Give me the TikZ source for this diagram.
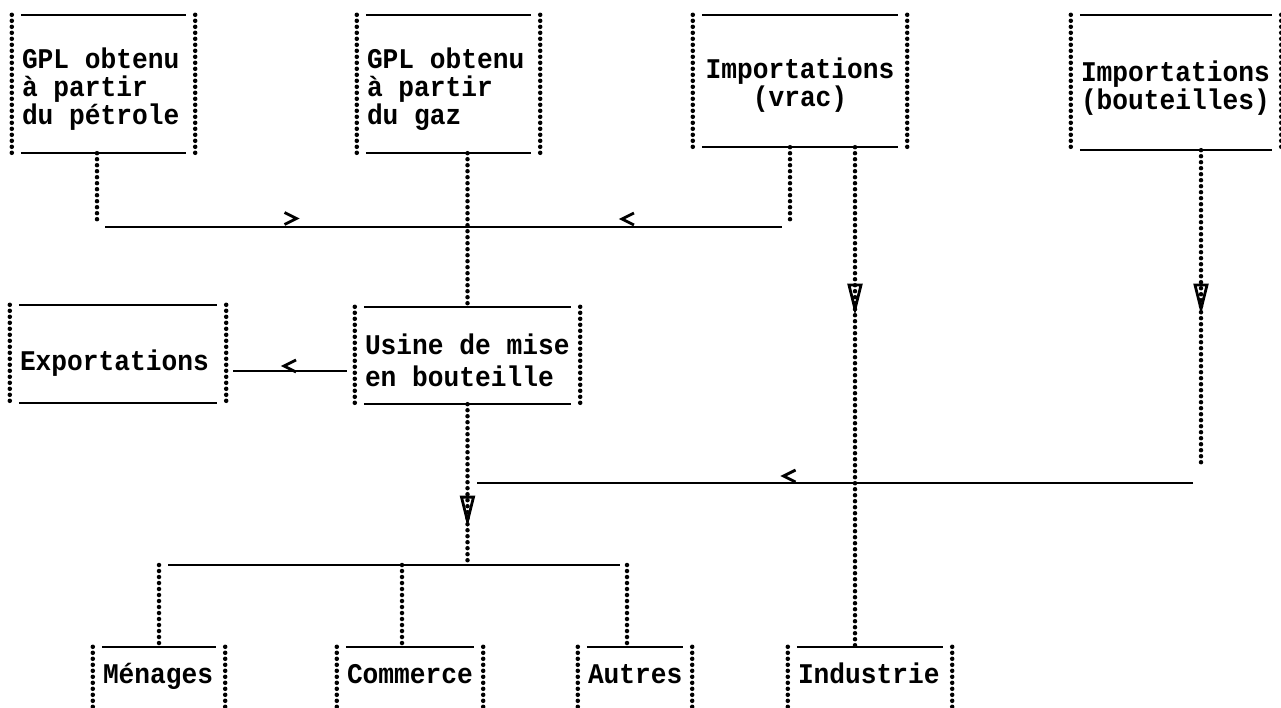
\documentclass[tikz,border=0pt]{standalone}
\usepackage{fontspec}
\setmainfont{Liberation Mono}[FakeStretch=0.92]
\usetikzlibrary{calc}
\protected\def\twfont{\bfseries\fontsize{28.5}{28}\selectfont
  \fontdimen2\font=15.73pt \fontdimen3\font=0pt \fontdimen4\font=0pt \relax}
\tikzset{
  solidln/.style={line width=2.2pt},
  dotln/.style={line width=4.5pt, line cap=round, dash pattern=on 0pt off 6pt},
  glyphln/.style={line width=2.8pt, line join=miter},
  tbox/.style={inner xsep=10pt, inner ysep=0pt, font=\twfont},
  pics/ltri/.style={code={\draw[glyphln] (6,-6) -- (-6,0) -- (6,6);}},
  pics/rtri/.style={code={\draw[glyphln] (-6,-6) -- (6,0) -- (-6,6);}},
  pics/vtri/.style={code={\draw[glyphln] (-6,0) -- (6,0) -- (0,24) -- cycle;}},
}
\newcommand\frameit[1]{%
  \draw[solidln] ([xshift=9pt]#1.north west) -- ([xshift=-9pt]#1.north east);
  \draw[solidln] ([xshift=9pt]#1.south west) -- ([xshift=-9pt]#1.south east);
  \draw[dotln] (#1.north west) -- (#1.south west);
  \draw[dotln] (#1.north east) -- (#1.south east);}
\begin{document}
\begin{tikzpicture}[x=1pt,y=-1pt]
\useasboundingbox (0,0) rectangle (1281,708);
\fill[white] (0,0) rectangle (1281,708);
\clip (0,0) rectangle (1281,708);

% boxes
\node[tbox, align=flush left, text width=163pt, minimum width=183pt, minimum height=138pt, text height=32pt, text depth=62pt] (b1) at (103.5,84) {GPL obtenu\\à partir\\du pétrole};
\node[tbox, align=flush left, text width=163pt, minimum width=183pt, minimum height=138pt, text height=32pt, text depth=62pt] (b2) at (448.5,84) {GPL obtenu\\à partir\\du gaz};
\node[tbox, align=flush center, text width=194pt, minimum width=214pt, minimum height=132pt, text height=30pt, text depth=34pt] (vrac) at (800,81) {Importations\\(vrac)};
\node[tbox, align=flush left, text width=190pt, minimum width=210pt, minimum height=135pt, text height=33pt, text depth=34pt] (bout) at (1176,82.5) {Importations\\(bouteilles)};
\node[tbox, align=flush left, text width=196pt, minimum width=216pt, minimum height=98pt, text height=38pt, text depth=6pt] (exp) at (118,354) {Exportations};
\node[tbox, align=flush left, text width=205pt, minimum width=225pt, minimum height=97pt, text height=35pt, text depth=38pt] (usine) at (467.5,355.5) {Usine de mise\\[4pt]en bouteille};
\node[tbox, align=flush left, text width=112pt, minimum width=132pt, minimum height=65pt, text height=13pt, text depth=6pt] (men) at (159,679.5) {Ménages};
\node[tbox, align=flush left, text width=126pt, minimum width=146pt, minimum height=65pt, text height=13pt, text depth=6pt] (com) at (410,679.5) {Commerce};
\node[tbox, align=flush left, text width=94pt, minimum width=114pt, minimum height=65pt, text height=13pt, text depth=6pt] (aut) at (635,679.5) {Autres};
\node[tbox, align=flush left, text width=144pt, minimum width=164pt, minimum height=65pt, text height=13pt, text depth=6pt] (ind) at (870,679.5) {Industrie};

\frameit{b1}\frameit{b2}\frameit{vrac}\frameit{bout}\frameit{exp}
\frameit{usine}\frameit{men}\frameit{com}\frameit{aut}\frameit{ind}

% top merge
\coordinate (m1) at (97,227);
\coordinate (m2) at (790,227);
\draw[dotln] (b1.south -| m1) -- ([yshift=5pt]m1);
\draw[dotln] (vrac.south -| m2) -- ([yshift=5pt]m2);
\draw[solidln] ([xshift=8pt]m1) -- ([xshift=-8pt]m2) coordinate[pos=0.274] (g1) coordinate[pos=0.7725] (g2);
\pic at ([yshift=8.5pt]g1) {rtri};
\pic at ([yshift=8pt]g2) {ltri};
\draw[dotln] (b2.south -| usine.north) -- (usine.north);

% exportations
\coordinate (ey) at (0,371);
\draw[solidln] ([xshift=-8pt]usine.west |- ey) -- ([xshift=7pt]exp.east |- ey) coordinate[pos=0.5] (g3);
\pic at ([yshift=5pt]g3) {ltri};

% usine down
\coordinate (br) at (468,565);
\draw[dotln] (usine.south) -- (usine.south |- br) coordinate[pos=0.578] (g4);
\pic at (g4) {vtri};

% bouteilles
\coordinate (bj) at (1201,483);
\draw[dotln] (bout.south -| bj) -- ([yshift=20pt]bj) coordinate[pos=0.431] (g5);
\pic at (g5) {vtri};
\draw[solidln] ([xshift=-8pt]bj) -- ([xshift=9pt]usine.south |- bj) coordinate[pos=0.563] (g6);
\pic at ([yshift=7pt]g6) {ltri};

% vrac to industrie
\draw[dotln] ([xshift=55pt]vrac.south) -- ([xshift=55pt]vrac.south |- ind.north) coordinate[pos=0.276] (g7);
\pic at (g7) {vtri};

% branch
\coordinate (bl) at (159,565);
\coordinate (brr) at (627,565);
\draw[solidln] ([xshift=9pt]bl) -- ([xshift=-7pt]brr);
\draw[dotln] (bl) -- (men.north);
\draw[dotln] ([xshift=-8pt]com.north |- bl) -- ([xshift=-8pt]com.north);
\draw[dotln] (brr) -- (brr |- aut.north);
\end{tikzpicture}
\end{document}
